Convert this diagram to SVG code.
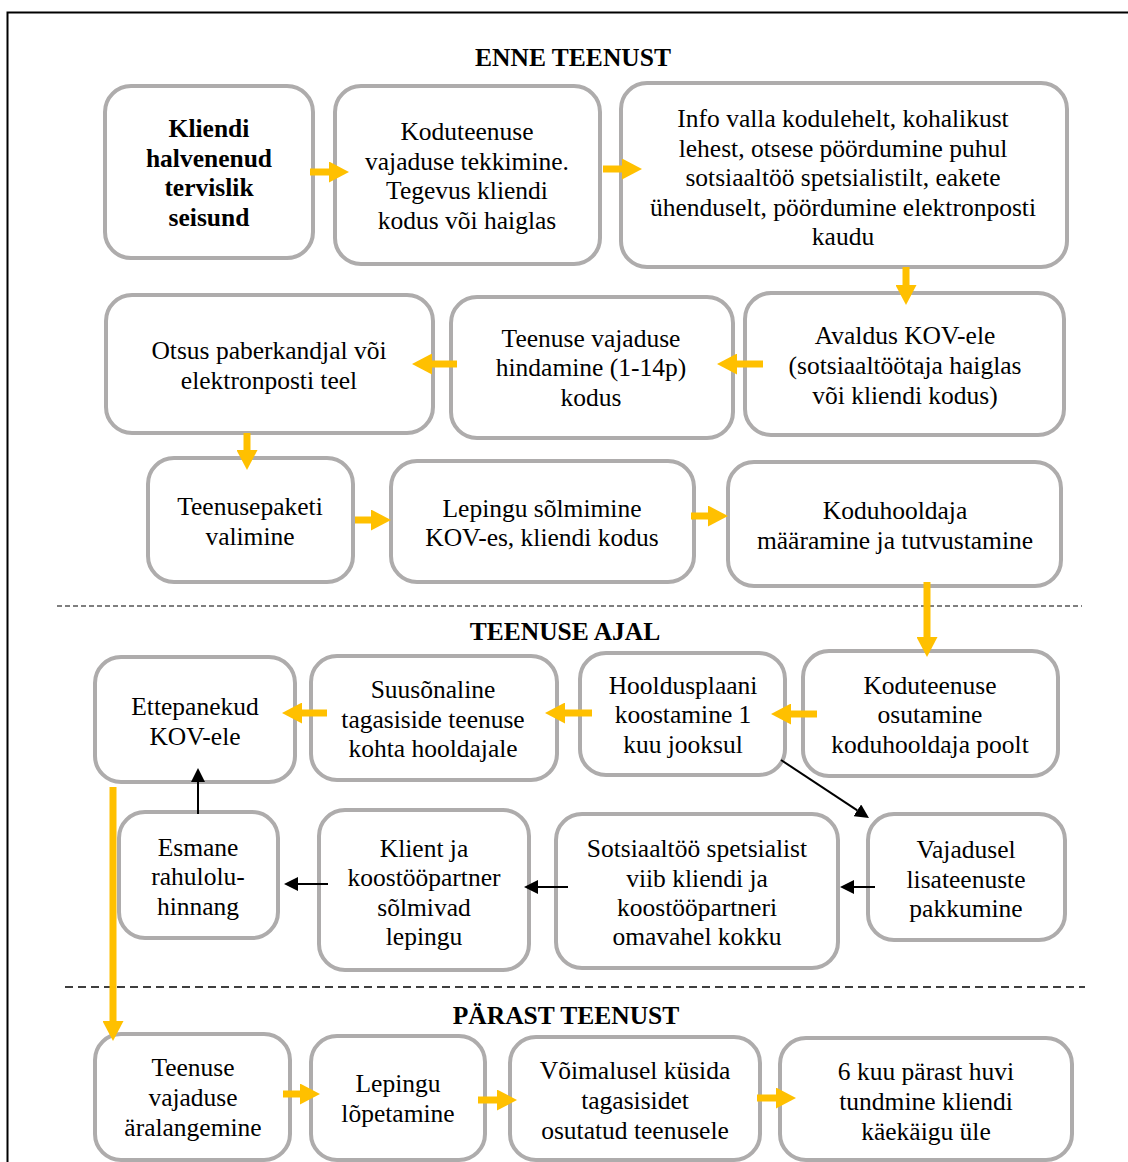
<svg xmlns="http://www.w3.org/2000/svg" width="1128" height="1162" viewBox="0 0 1128 1162">
  <defs>
    <style>
      .box { fill: #ffffff; stroke: #aeacac; stroke-width: 4; }
      .t { font-family: "Liberation Serif", "Times New Roman", serif; font-size: 25.5px; fill: #000; text-anchor: middle; }
      .b { font-weight: bold; }
      .y { stroke: #ffc000; stroke-width: 7; fill: none; }
      .k { stroke: #000; stroke-width: 2; fill: none; }
    </style>
    <marker id="yh" viewBox="0 0 20 21" refX="0" refY="10.5" markerWidth="20" markerHeight="21" markerUnits="userSpaceOnUse" orient="auto">
      <path d="M0,0 L20,10.5 L0,21 Z" fill="#ffc000"/>
    </marker>
    <marker id="kh" viewBox="0 0 14 14" refX="0" refY="7" markerWidth="14" markerHeight="14" markerUnits="userSpaceOnUse" orient="auto">
      <path d="M0,0 L14,7 L0,14 Z" fill="#000"/>
    </marker>
  </defs>

  <rect x="0" y="0" width="1128" height="1162" fill="#ffffff"/>
  <!-- outer frame -->
  <rect x="7.5" y="12.5" width="1130" height="1160" fill="none" stroke="#000" stroke-width="2"/>

  <!-- section titles and separators -->
  <g id="sections">
    <text class="t b" x="573" y="66">ENNE TEENUST</text>
    <line x1="57" y1="606" x2="1082" y2="606" stroke="#555" stroke-width="1.5" stroke-dasharray="5 3"/>
    <text class="t b" x="565" y="640">TEENUSE AJAL</text>
    <line x1="65" y1="987" x2="1085" y2="987" stroke="#000" stroke-width="1.5" stroke-dasharray="8 5"/>
    <text class="t b" x="566" y="1024">PÄRAST TEENUST</text>
  </g>

  <!-- before the service -->
  <g id="n-kliendi-seisund">
    <rect class="box" x="105" y="86" width="208" height="172" rx="26"/>
    <text class="t b" x="209"><tspan x="209" y="137">Kliendi</tspan><tspan x="209" y="167">halvenenud</tspan><tspan x="209" y="196">tervislik</tspan><tspan x="209" y="226">seisund</tspan></text>
  </g>
  <g id="n-vajaduse-tekkimine">
    <rect class="box" x="335" y="86" width="265" height="178" rx="26"/>
    <text class="t"><tspan x="467" y="140">Koduteenuse</tspan><tspan x="467" y="170">vajaduse tekkimine.</tspan><tspan x="467" y="199">Tegevus kliendi</tspan><tspan x="467" y="229">kodus või haiglas</tspan></text>
  </g>
  <g id="n-info">
    <rect class="box" x="621" y="83" width="446" height="184" rx="26"/>
    <text class="t"><tspan x="843" y="127">Info valla kodulehelt, kohalikust</tspan><tspan x="843" y="157">lehest, otsese pöördumine puhul</tspan><tspan x="843" y="186">sotsiaaltöö spetsialistilt, eakete</tspan><tspan x="843" y="216">ühenduselt, pöördumine elektronposti</tspan><tspan x="843" y="245">kaudu</tspan></text>
  </g>
  <g id="n-avaldus">
    <rect class="box" x="745" y="293" width="319" height="142" rx="26"/>
    <text class="t"><tspan x="905" y="344">Avaldus KOV-ele</tspan><tspan x="905" y="374">(sotsiaaltöötaja haiglas</tspan><tspan x="905" y="404">või kliendi kodus)</tspan></text>
  </g>
  <g id="n-hindamine">
    <rect class="box" x="451" y="297" width="282" height="141" rx="26"/>
    <text class="t"><tspan x="591" y="347">Teenuse vajaduse</tspan><tspan x="591" y="376">hindamine (1-14p)</tspan><tspan x="591" y="406">kodus</tspan></text>
  </g>
  <g id="n-otsus">
    <rect class="box" x="106" y="295" width="327" height="138" rx="26"/>
    <text class="t"><tspan x="269" y="359">Otsus paberkandjal või</tspan><tspan x="269" y="389">elektronposti teel</tspan></text>
  </g>
  <g id="n-teenusepakett">
    <rect class="box" x="148" y="458" width="205" height="124" rx="26"/>
    <text class="t"><tspan x="250" y="515">Teenusepaketi</tspan><tspan x="250" y="545">valimine</tspan></text>
  </g>
  <g id="n-leping">
    <rect class="box" x="391" y="461" width="303" height="121" rx="26"/>
    <text class="t"><tspan x="542" y="517">Lepingu sõlmimine</tspan><tspan x="542" y="546">KOV-es, kliendi kodus</tspan></text>
  </g>
  <g id="n-koduhooldaja">
    <rect class="box" x="728" y="462" width="333" height="124" rx="26"/>
    <text class="t"><tspan x="895" y="519">Koduhooldaja</tspan><tspan x="895" y="549">määramine ja tutvustamine</tspan></text>
  </g>

  <!-- during the service -->
  <g id="n-osutamine">
    <rect class="box" x="803" y="651" width="255" height="125" rx="26"/>
    <text class="t"><tspan x="930" y="694">Koduteenuse</tspan><tspan x="930" y="723">osutamine</tspan><tspan x="930" y="753">koduhooldaja poolt</tspan></text>
  </g>
  <g id="n-hooldusplaan">
    <rect class="box" x="580" y="653" width="205" height="122" rx="26"/>
    <text class="t"><tspan x="683" y="694">Hooldusplaani</tspan><tspan x="683" y="723">koostamine 1</tspan><tspan x="683" y="753">kuu jooksul</tspan></text>
  </g>
  <g id="n-tagasiside">
    <rect class="box" x="311" y="656" width="246" height="124" rx="26"/>
    <text class="t"><tspan x="433" y="698">Suusõnaline</tspan><tspan x="433" y="728">tagasiside teenuse</tspan><tspan x="433" y="757">kohta hooldajale</tspan></text>
  </g>
  <g id="n-ettepanekud">
    <rect class="box" x="95" y="657" width="200" height="125" rx="26"/>
    <text class="t"><tspan x="195" y="715">Ettepanekud</tspan><tspan x="195" y="745">KOV-ele</tspan></text>
  </g>
  <g id="n-lisateenused">
    <rect class="box" x="868" y="814" width="197" height="126" rx="26"/>
    <text class="t"><tspan x="966" y="858">Vajadusel</tspan><tspan x="966" y="888">lisateenuste</tspan><tspan x="966" y="917">pakkumine</tspan></text>
  </g>
  <g id="n-sotsiaaltoo">
    <rect class="box" x="556" y="814" width="282" height="154" rx="26"/>
    <text class="t"><tspan x="697" y="857">Sotsiaaltöö spetsialist</tspan><tspan x="697" y="887">viib kliendi ja</tspan><tspan x="697" y="916">koostööpartneri</tspan><tspan x="697" y="945">omavahel kokku</tspan></text>
  </g>
  <g id="n-klient-partner">
    <rect class="box" x="319" y="810" width="210" height="160" rx="26"/>
    <text class="t"><tspan x="424" y="857">Klient ja</tspan><tspan x="424" y="886">koostööpartner</tspan><tspan x="424" y="916">sõlmivad</tspan><tspan x="424" y="945">lepingu</tspan></text>
  </g>
  <g id="n-rahulolu">
    <rect class="box" x="119" y="812" width="159" height="126" rx="26"/>
    <text class="t"><tspan x="198" y="856">Esmane</tspan><tspan x="198" y="885">rahulolu-</tspan><tspan x="198" y="915">hinnang</tspan></text>
  </g>

  <!-- after the service -->
  <g id="n-aralangemine">
    <rect class="box" x="95" y="1034" width="195" height="126" rx="26"/>
    <text class="t"><tspan x="193" y="1076">Teenuse</tspan><tspan x="193" y="1106">vajaduse</tspan><tspan x="193" y="1136">äralangemine</tspan></text>
  </g>
  <g id="n-lopetamine">
    <rect class="box" x="311" y="1036" width="174" height="124" rx="26"/>
    <text class="t"><tspan x="398" y="1092">Lepingu</tspan><tspan x="398" y="1122">lõpetamine</tspan></text>
  </g>
  <g id="n-kusida">
    <rect class="box" x="510" y="1037" width="250" height="123" rx="26"/>
    <text class="t"><tspan x="635" y="1079">Võimalusel küsida</tspan><tspan x="635" y="1109">tagasisidet</tspan><tspan x="635" y="1139">osutatud teenusele</tspan></text>
  </g>
  <g id="n-kuue-kuu">
    <rect class="box" x="780" y="1038" width="292" height="122" rx="26"/>
    <text class="t"><tspan x="926" y="1080">6 kuu pärast huvi</tspan><tspan x="926" y="1110">tundmine kliendi</tspan><tspan x="926" y="1140">käekäigu üle</tspan></text>
  </g>

  <!-- connectors -->
  <g id="connectors">
    <line class="y" x1="310" y1="172" x2="329" y2="172" marker-end="url(#yh)"/>
    <line class="y" x1="603" y1="169" x2="622" y2="169" marker-end="url(#yh)"/>
    <line class="y" x1="906" y1="267" x2="906" y2="285" marker-end="url(#yh)"/>
    <line class="y" x1="763" y1="364" x2="737" y2="364" marker-end="url(#yh)"/>
    <line class="y" x1="457" y1="364" x2="432" y2="364" marker-end="url(#yh)"/>
    <line class="y" x1="247" y1="433" x2="247" y2="450" marker-end="url(#yh)"/>
    <line class="y" x1="355" y1="520" x2="371" y2="520" marker-end="url(#yh)"/>
    <line class="y" x1="691" y1="516" x2="708" y2="516" marker-end="url(#yh)"/>
    <line class="y" x1="927" y1="582" x2="927" y2="637" marker-end="url(#yh)"/>
    <line class="y" x1="817" y1="714" x2="791" y2="714" marker-end="url(#yh)"/>
    <line class="y" x1="592" y1="713" x2="565" y2="713" marker-end="url(#yh)"/>
    <line class="y" x1="327" y1="713" x2="302" y2="713" marker-end="url(#yh)"/>
    <line class="y" x1="113" y1="787" x2="113" y2="1021" marker-end="url(#yh)"/>
    <line class="y" x1="283" y1="1094" x2="300" y2="1094" marker-end="url(#yh)"/>
    <line class="y" x1="478" y1="1100" x2="497" y2="1100" marker-end="url(#yh)"/>
    <line class="y" x1="757" y1="1098" x2="776" y2="1098" marker-end="url(#yh)"/>

    <line class="k" x1="781" y1="760" x2="857.3" y2="810.3" marker-end="url(#kh)"/>
    <line class="k" x1="875" y1="887" x2="854" y2="887" marker-end="url(#kh)"/>
    <line class="k" x1="568" y1="887" x2="538" y2="887" marker-end="url(#kh)"/>
    <line class="k" x1="328" y1="884" x2="298" y2="884" marker-end="url(#kh)"/>
    <line class="k" x1="198" y1="814" x2="198" y2="782" marker-end="url(#kh)"/>
  </g>
</svg>
